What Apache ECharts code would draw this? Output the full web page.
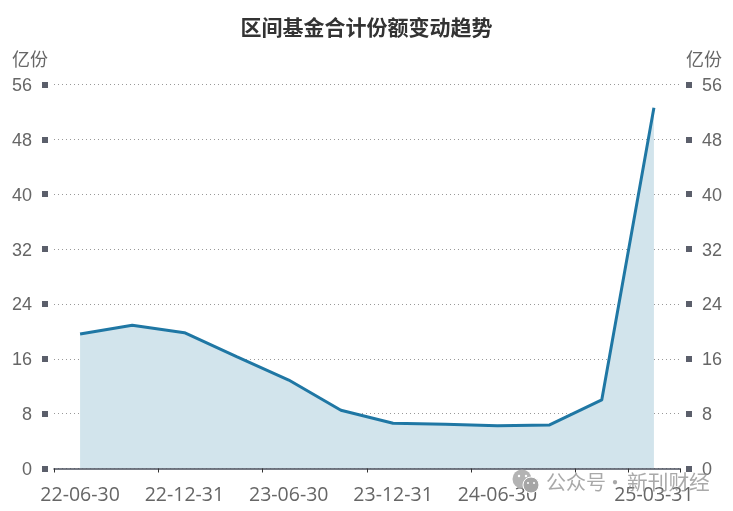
<!DOCTYPE html>
<html><head><meta charset="utf-8">
<style>html,body{margin:0;padding:0;background:#fff}#c{width:733px;height:511px}</style>
<script src="https://cdn.jsdelivr.net/npm/echarts@6/dist/echarts.min.js"></script>
</head><body><div id="c"></div>
<script>
const categories=['22-06-30','22-09-30','22-12-31','23-03-31','23-06-30','23-09-30','23-12-31','24-03-31','24-06-30','24-09-30','24-12-31','25-03-31'];
const shares=[19.6,20.9,19.8,16.3,12.9,8.5,6.6,6.45,6.25,6.35,10.0,52.6];
const titleText='区间基金合计份额变动趋势';
const unit='亿份';
const labelFont='"Liberation Sans",Arial,sans-serif';
const cjk='"Noto Sans CJK SC",sans-serif';
const chart=echarts.init(document.getElementById('c'),null,{renderer:'canvas'});
const yAxisBase={type:'value',min:0,max:56,interval:8,offset:6,
  name:unit,nameLocation:'end',nameGap:16,
  axisLine:{show:false},
  axisTick:{show:true,length:6,lineStyle:{color:'#5b5f6b',width:6}},
  axisLabel:{margin:16,formatter:'{a|{value}}',
    rich:{a:{color:'#666',fontSize:18,fontFamily:labelFont,padding:[3,0,0,0]}}}};
chart.setOption({
  animation:false,
  title:{text:titleText,left:'center',top:12,textStyle:{fontFamily:cjk,fontSize:21,fontWeight:'bold',color:'#333'}},
  grid:{left:54,right:53,top:84.5,bottom:42.5,containLabel:false},
  xAxis:{type:'category',data:categories,boundaryGap:true,z:5,
    axisLine:{lineStyle:{color:'#4a4f5c',width:1.5}},
    axisTick:{show:true,length:4,inside:false,lineStyle:{color:'#333'},interval:(i)=>i%2===0||i===11},
    axisLabel:{color:'#666',fontSize:19.5,fontFamily:'"Open Sans",sans-serif',margin:17,interval:(i)=>(i%2===0&&i!==10)||i===11,hideOverlap:false}},
  yAxis:[
    {...yAxisBase,position:'left',nameTextStyle:{color:'#666',fontSize:18,fontFamily:cjk,align:'right'},
      splitLine:{show:true,lineStyle:{color:'#999',type:[1,3],width:1}}},
    {...yAxisBase,position:'right',nameTextStyle:{color:'#666',fontSize:18,fontFamily:cjk,align:'left'},
      splitLine:{show:false}}
  ],
  series:[{type:'line',data:shares,yAxisIndex:0,symbol:'none',smooth:false,
    lineStyle:{color:'#1f77a4',width:3},
    areaStyle:{color:'#d2e4ec',opacity:1},z:3}],
  graphic:[
    {type:'circle',shape:{cx:522,cy:479,r:9.5},style:{fill:'rgba(175,175,175,0.95)'},z:10},
    {type:'circle',shape:{cx:519,cy:476,r:1.2},style:{fill:'#fff'},z:11},
    {type:'circle',shape:{cx:526,cy:476,r:1.2},style:{fill:'#fff'},z:11},
    {type:'circle',shape:{cx:531,cy:485,r:8},style:{fill:'rgba(165,165,165,1)',stroke:'#fff',lineWidth:1},z:12},
    {type:'circle',shape:{cx:528,cy:483,r:1},style:{fill:'#fff'},z:13},
    {type:'circle',shape:{cx:534,cy:483,r:1},style:{fill:'#fff'},z:13},
    {type:'text',style:{x:546,y:482,text:'公众号',fill:'rgba(140,140,140,0.75)',font:'20px '+cjk,verticalAlign:'middle'},z:14},
    {type:'text',style:{x:605,y:482,text:'·',fill:'rgba(140,140,140,0.75)',font:'20px '+cjk,verticalAlign:'middle'},z:14},
    {type:'text',style:{x:627,y:482,text:'新刊财经',fill:'rgba(140,140,140,0.75)',font:'20.7px '+cjk,verticalAlign:'middle'},z:14}
  ]
});
</script></body></html>
